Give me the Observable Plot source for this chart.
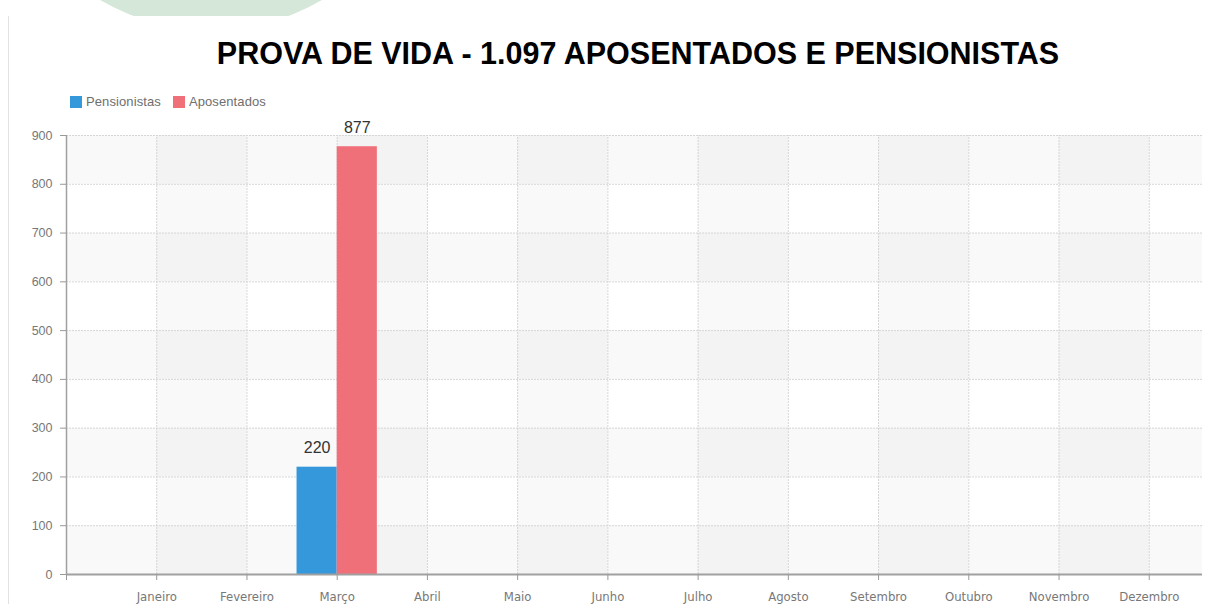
<!DOCTYPE html>
<html><head><meta charset="utf-8">
<script src="https://cdn.jsdelivr.net/npm/d3@7"></script>
<script src="https://cdn.jsdelivr.net/npm/@observablehq/plot@0.6"></script>
<style>
body{margin:0;background:#fff;width:1212px;height:604px;overflow:hidden;position:relative;font-family:"Liberation Sans",Arial,sans-serif}
#blob{position:absolute;left:0;top:0;width:400px;height:16px;overflow:hidden}
#blob div{position:absolute;left:-9px;top:-410px;width:440px;height:440px;border-radius:50%;background:#d4e7d8}
#border{position:absolute;left:8px;top:16px;width:1px;height:588px;background:#e2e2e2}
#title{position:absolute;left:638px;top:36px;transform:translateX(-50%);white-space:nowrap;font-weight:bold;font-size:30.5px;color:#000}
#legend{position:absolute;left:70px;top:94px;font-size:13px;color:#6e6e6e;display:flex;align-items:center}
#legend span.sw{display:inline-block;width:12px;height:12px;margin-right:4px}
#legend span.lb{margin-right:12px;letter-spacing:0.1px}
#chart{position:absolute;left:0;top:115px}
</style></head>
<body>
<div id="blob"><div></div></div>
<div id="border"></div>
<div id="title">PROVA DE VIDA - 1.097 APOSENTADOS E PENSIONISTAS</div>
<div id="legend"></div>
<div id="chart"></div>
<script>
const months = ["Janeiro","Fevereiro","Março","Abril","Maio","Junho","Julho","Agosto","Setembro","Outubro","Novembro","Dezembro"];
const seriesNames = ["Pensionistas","Aposentados"];
const seriesColors = ["#3498db","#f0707a"];
const pensionistas = [0,0,220,0,0,0,0,0,0,0,0,0];
const aposentados  = [0,0,877,0,0,0,0,0,0,0,0,0];
const yTicks = [0,100,200,300,400,500,600,700,800,900];

// legend
const leg = document.getElementById("legend");
seriesNames.forEach((n,i)=>{
  const s=document.createElement("span");s.className="sw";s.style.background=seriesColors[i];leg.appendChild(s);
  const t=document.createElement("span");t.className="lb";t.textContent=n;leg.appendChild(t);
});

const monthIdx = months.map((m,i)=>i+1);
const data = [];
months.forEach((m,i)=>{
  data.push({idx:i+1, series:0, value:pensionistas[i]});
  data.push({idx:i+1, series:1, value:aposentados[i]});
});
const half = 0.445;
const bars = data.filter(d=>d.value>0);
const yMax = yTicks[yTicks.length-1];
const xMax = 12.59;
const colStripes = [0, ...monthIdx].filter(k=>k%2===1);
const rowStripes = yTicks.slice(0,-1).filter((v,i)=>i%2===0);

const chart = Plot.plot({
  width:1212, height:489,
  marginLeft:66, marginRight:10, marginTop:20, marginBottom:30,
  x:{type:"linear", domain:[0,xMax]},
  y:{domain:[0,yMax]},
  style:{fontFamily:"'DejaVu Sans Condensed','Liberation Sans',sans-serif", fontSize:"13px", color:"#777", background:"transparent"},
  marks:[
    Plot.rect(colStripes,{x1:d=>d,x2:d=>d+1,y1:0,y2:yMax,fill:"#000",fillOpacity:0.022}),
    Plot.rect(rowStripes,{x1:0,x2:xMax,y1:d=>d,y2:d=>d+100,fill:"#000",fillOpacity:0.022}),
    Plot.ruleX(monthIdx,{y1:0,y2:yMax,stroke:"#d6d6d6",strokeDasharray:"2,1"}),
    Plot.ruleY(yTicks.slice(1),{stroke:"#d6d6d6",strokeDasharray:"2,1"}),
    Plot.rectY(bars,{x1:d=>d.series===0?d.idx-half:d.idx, x2:d=>d.series===0?d.idx:d.idx+half, y:"value", fill:d=>seriesColors[d.series], inset:0}),
    Plot.text(bars,{x:d=>d.series===0?d.idx-half/2:d.idx+half/2, y:"value", text:d=>String(d.value), lineAnchor:"bottom", dy:-14, fontSize:16, fill:"#333", fontFamily:"'Liberation Sans',Arial,sans-serif"}),
    Plot.ruleX([0],{stroke:"#a0a0a0",strokeWidth:1.5}),
    Plot.ruleY([0],{stroke:"#a0a0a0",strokeWidth:2}),
    Plot.axisY({ticks:yTicks, tickSize:6, tickPadding:8, stroke:"#999", fill:"#777", fontSize:12.5, fontFamily:"'Liberation Sans',Arial,sans-serif", label:null}),
    Plot.axisX({ticks:[0,...monthIdx], tickFormat:d=>d===0?"":months[d-1], tickSize:6, tickPadding:11, stroke:"#999", fill:"#777", label:null})
  ]
});
document.getElementById("chart").appendChild(chart);
</script>
</body></html>
